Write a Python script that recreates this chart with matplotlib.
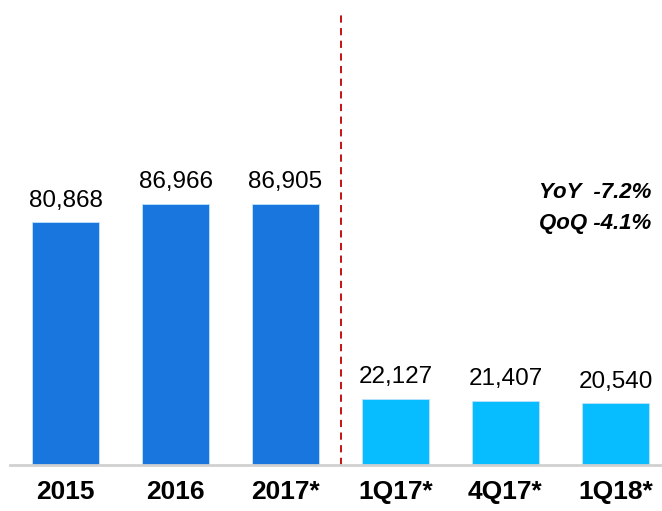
import matplotlib
matplotlib.use("Agg")
import matplotlib.pyplot as plt

categories = ["2015", "2016", "2017*", "1Q17*", "4Q17*", "1Q18*"]
values = [80868, 86966, 86905, 22127, 21407, 20540]
value_labels = ["80,868", "86,966", "86,905", "22,127", "21,407", "20,540"]
annotation_lines = ["YoY  -7.2%", "QoQ -4.1%"]

annual_color = "#1976DE"
quarter_color = "#08BDFF"
colors = [annual_color] * 3 + [quarter_color] * 3

plt.rcParams['font.family'] = ['Liberation Sans', 'DejaVu Sans']

W, H = 662, 511
fig = plt.figure(figsize=(W / 100, H / 100), dpi=100)
left_px, right_px, bottom_px, top_px = 10, 662, 46, 498
ax = fig.add_axes([left_px / W, bottom_px / H, (right_px - left_px) / W, (top_px - bottom_px) / H])

x = list(range(len(categories)))
ax.bar(x, values, width=0.61, color=colors, edgecolor="#BFE3FA", linewidth=0.6, zorder=2)
ax.set_xlim(-0.505, 5.423)
ax.set_ylim(0, 150400)

for xi, v, lab in zip(x, values, value_labels):
    ax.annotate(lab, (xi, v), xytext=(0, 7.5), textcoords="offset points",
                ha="center", va="bottom", fontsize=17.5, color="black")

ax.axvline(2.5, color="#C00000", linestyle=(0, (4, 3)), linewidth=1.3, zorder=1)

for s in ["top", "right", "left"]:
    ax.spines[s].set_visible(False)
ax.spines["bottom"].set_color("#D0D0D0")
ax.spines["bottom"].set_linewidth(2)
ax.set_yticks([])
ax.set_xticks(x)
ax.set_xticklabels(categories, fontsize=19, fontweight="bold")
ax.tick_params(axis="x", length=0, pad=10.8)

fig.text(651 / W, 1 - 192 / H, annotation_lines[0], ha="right", va="center",
         fontsize=16, fontweight="bold", fontstyle="italic")
fig.text(651 / W, 1 - 223 / H, annotation_lines[1], ha="right", va="center",
         fontsize=16, fontweight="bold", fontstyle="italic")

fig.savefig("out.png", dpi=100)
